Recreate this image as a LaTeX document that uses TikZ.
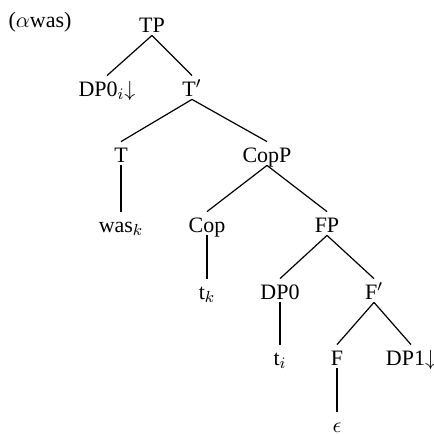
\documentclass[tikz,border=0pt]{standalone}
\usepackage{fontspec}
\setmainfont{Liberation Serif}
\tikzstyle{cat} = [text centered,
			text height = 8.5pt,
			text depth = 0pt,
			inner xsep = 1pt,
			inner ysep = 1.5pt,
			anchor = base]
\tikzstyle{branch} = [draw, line width = 0.6pt]

\begin{document}
\begin{tikzpicture}[x = 0.5pt, y = -0.5pt, font = \fontsize{11}{13}\selectfont]
	\useasboundingbox (0,0) rectangle (434,434);
	\node [cat] (tag) at (40,27) {($\alpha$was)};
	\node [cat] (TP) at (152,32) {TP};
	\node [cat] (DPi) at (107,96) {DP0$_i{\downarrow}$};
	\path [branch] (TP.south) -- (DPi.north);
	\node [cat] (Tbar) at (192,96) {T$'$};
	\path [branch] (TP.south) -- (Tbar.north);
	\node [cat] (T) at (121,162) {T};
	\path [branch] (Tbar.south) -- (T.north);
	\node [cat] (CopP) at (267,162) {CopP};
	\path [branch] (Tbar.south) -- (CopP.north);
	\node [cat] (was) at (121,232) {was$_k$};
	\path [branch] (T.south) -- (T.south |- was.north);
	\node [cat] (Cop) at (207,232) {Cop};
	\path [branch] (CopP.south) -- (Cop.north);
	\node [cat] (FP) at (327,232) {FP};
	\path [branch] (CopP.south) -- (FP.north);
	\node [cat] (tk) at (207,299) {t$_k$};
	\path [branch] (Cop.south) -- (Cop.south |- tk.north);
	\node [cat] (DPzero) at (280,299) {DP0};
	\path [branch] (FP.south) -- (DPzero.north);
	\node [cat] (Fbar) at (374,299) {F$'$};
	\path [branch] (FP.south) -- (Fbar.north);
	\node [cat] (ti) at (280,365) {t$_i$};
	\path [branch] (DPzero.south) -- (DPzero.south |- ti.north);
	\node [cat] (F) at (337,365) {F};
	\path [branch] (Fbar.south) -- (F.north);
	\node [cat] (DPone) at (411,365) {DP1${\downarrow}$};
	\path [branch] (Fbar.south) -- (DPone.north);
	\node [cat] (eps) at (337,432) {$\epsilon$};
	\path [branch] (F.south) -- (F.south |- eps.north);
\end{tikzpicture}
\end{document}
